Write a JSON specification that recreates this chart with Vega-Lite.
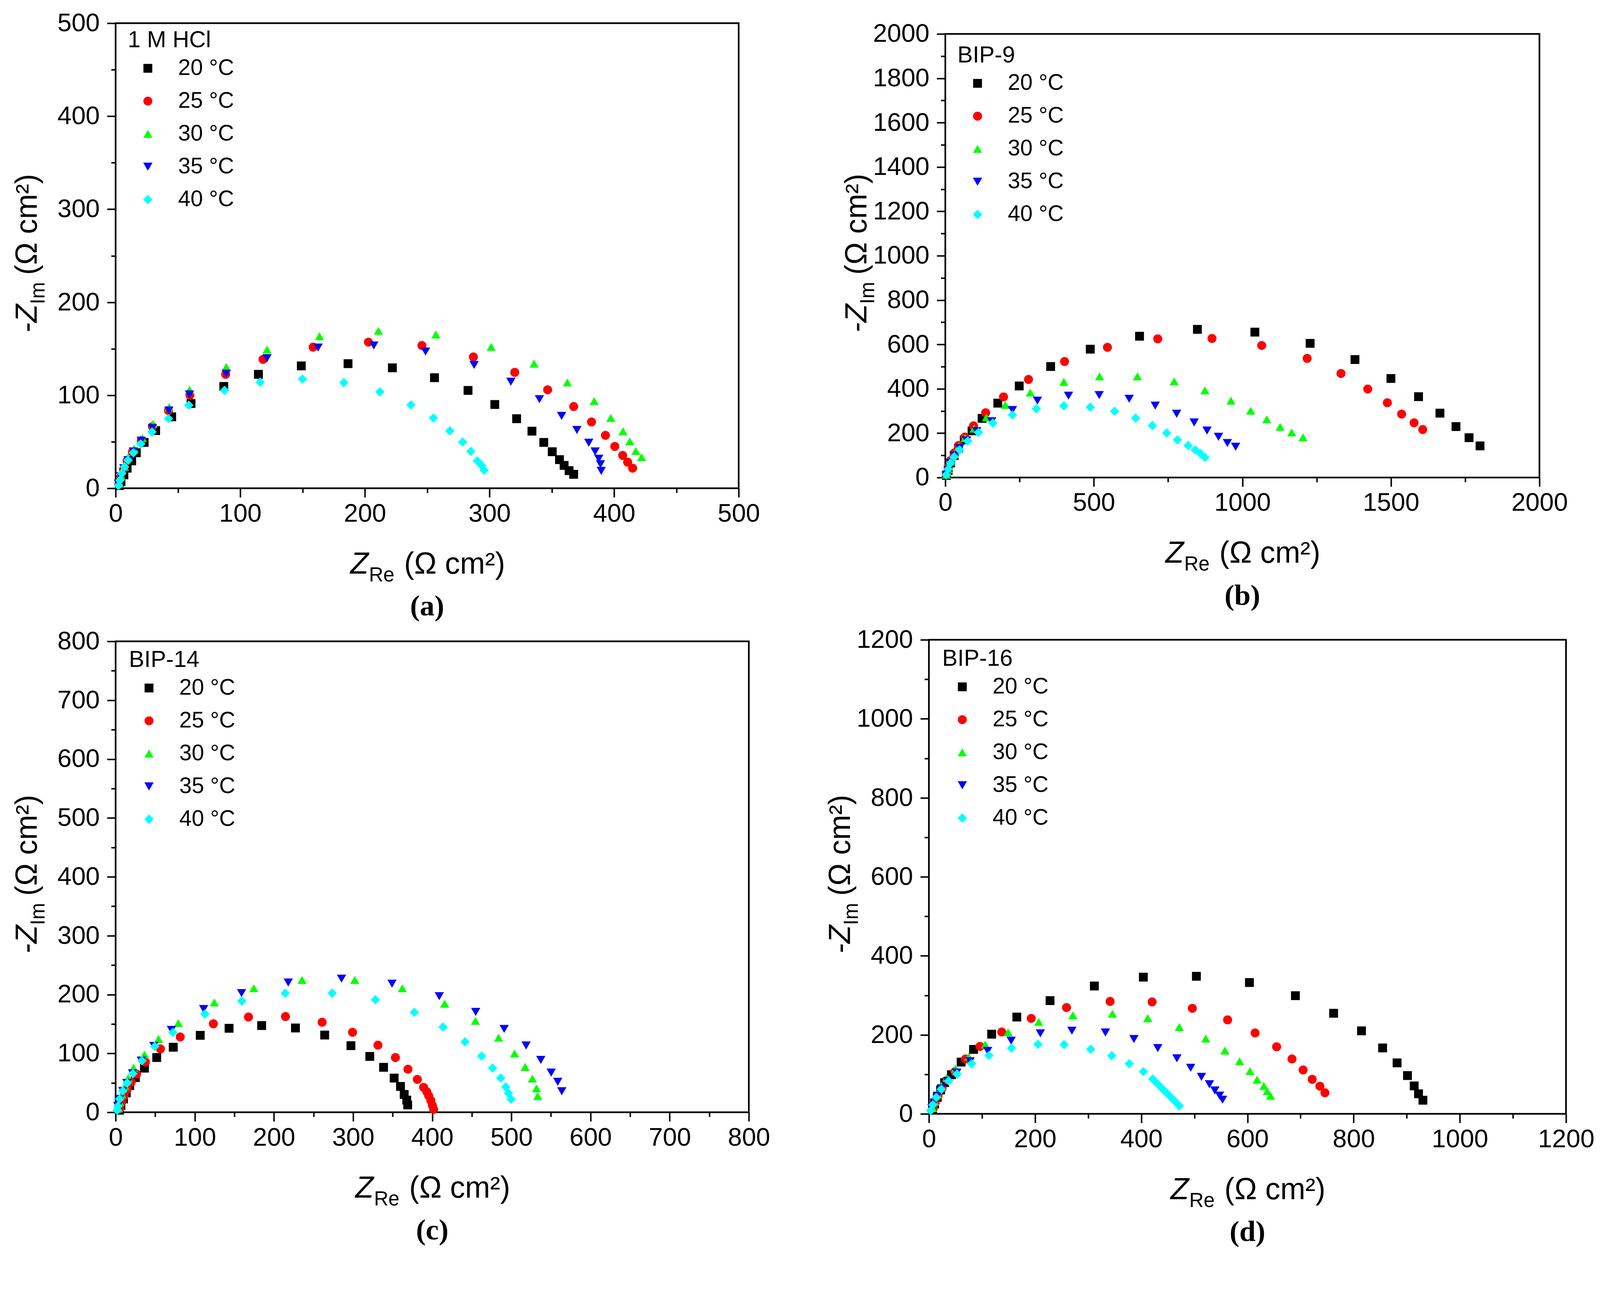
{
  "$schema": "https://vega.github.io/schema/vega-lite/v6.json",
  "padding": {"left": 28, "top": 25, "right": 5, "bottom": 5},
  "background": "white",
  "datasets": {
    "a": [
      {"s":"20 °C","x":367.6,"y":15.0},{"s":"20 °C","x":363.9,"y":19.0},{"s":"20 °C","x":359.9,"y":24.6},{"s":"20 °C","x":356.2,"y":30.8},{"s":"20 °C","x":350.4,"y":39.3},{"s":"20 °C","x":343.6,"y":49.3},{"s":"20 °C","x":334.1,"y":61.4},{"s":"20 °C","x":321.8,"y":74.8},{"s":"20 °C","x":304.3,"y":90.1},{"s":"20 °C","x":282.8,"y":105.2},{"s":"20 °C","x":255.9,"y":118.9},{"s":"20 °C","x":222.1,"y":129.5},{"s":"20 °C","x":186.5,"y":134.0},{"s":"20 °C","x":149.0,"y":131.6},{"s":"20 °C","x":114.6,"y":122.5},{"s":"20 °C","x":86.8,"y":109.5},{"s":"20 °C","x":60.5,"y":91.1},{"s":"20 °C","x":45.0,"y":76.8},{"s":"20 °C","x":32.1,"y":62.0},{"s":"20 °C","x":22.9,"y":49.3},{"s":"20 °C","x":16.6,"y":38.2},{"s":"20 °C","x":12.9,"y":29.5},{"s":"20 °C","x":9.2,"y":21.6},{"s":"20 °C","x":6.6,"y":14.4},{"s":"20 °C","x":4.3,"y":7.2},{"s":"20 °C","x":2.9,"y":2.9},
      {"s":"25 °C","x":414.9,"y":21.6},{"s":"25 °C","x":410.9,"y":28.1},{"s":"25 °C","x":406.9,"y":35.3},{"s":"25 °C","x":400.6,"y":45.0},{"s":"25 °C","x":393.1,"y":56.9},{"s":"25 °C","x":381.9,"y":71.3},{"s":"25 °C","x":367.6,"y":87.9},{"s":"25 °C","x":346.7,"y":105.9},{"s":"25 °C","x":320.3,"y":124.6},{"s":"25 °C","x":287.1,"y":141.2},{"s":"25 °C","x":245.8,"y":153.5},{"s":"25 °C","x":202.9,"y":157.1},{"s":"25 °C","x":158.5,"y":151.7},{"s":"25 °C","x":118.3,"y":138.6},{"s":"25 °C","x":88.3,"y":122.5},{"s":"25 °C","x":59.6,"y":100.1},{"s":"25 °C","x":42.4,"y":83.6},{"s":"25 °C","x":29.5,"y":66.3},{"s":"25 °C","x":20.6,"y":51.2},{"s":"25 °C","x":13.5,"y":38.9},{"s":"25 °C","x":9.2,"y":29.5},{"s":"25 °C","x":6.3,"y":20.2},{"s":"25 °C","x":4.0,"y":11.5},{"s":"25 °C","x":2.6,"y":4.3},
      {"s":"30 °C","x":422.1,"y":33.4},{"s":"30 °C","x":417.5,"y":40.1},{"s":"30 °C","x":412.6,"y":50.4},{"s":"30 °C","x":407.2,"y":61.2},{"s":"30 °C","x":397.4,"y":75.6},{"s":"30 °C","x":384.0,"y":93.7},{"s":"30 °C","x":362.5,"y":113.8},{"s":"30 °C","x":335.8,"y":134.0},{"s":"30 °C","x":301.4,"y":152.0},{"s":"30 °C","x":257.0,"y":165.3},{"s":"30 °C","x":210.9,"y":169.3},{"s":"30 °C","x":163.6,"y":163.5},{"s":"30 °C","x":121.5,"y":149.1},{"s":"30 °C","x":88.8,"y":130.4},{"s":"30 °C","x":59.3,"y":105.9},{"s":"30 °C","x":43.0,"y":87.2},{"s":"30 °C","x":30.1,"y":69.2},{"s":"30 °C","x":21.5,"y":54.0},{"s":"30 °C","x":14.9,"y":42.5},{"s":"30 °C","x":10.0,"y":33.1},{"s":"30 °C","x":7.2,"y":23.1},{"s":"30 °C","x":4.3,"y":13.0},{"s":"30 °C","x":2.9,"y":5.0},
      {"s":"35 °C","x":389.7,"y":18.7},{"s":"35 °C","x":389.1,"y":25.9},{"s":"35 °C","x":387.7,"y":31.7},{"s":"35 °C","x":384.8,"y":39.6},{"s":"35 °C","x":379.7,"y":49.0},{"s":"35 °C","x":370.2,"y":62.7},{"s":"35 °C","x":357.9,"y":77.8},{"s":"35 °C","x":340.1,"y":95.8},{"s":"35 °C","x":317.2,"y":114.6},{"s":"35 °C","x":287.7,"y":132.6},{"s":"35 °C","x":248.7,"y":147.0},{"s":"35 °C","x":207.2,"y":153.5},{"s":"35 °C","x":162.5,"y":151.3},{"s":"35 °C","x":121.5,"y":139.8},{"s":"35 °C","x":88.8,"y":123.2},{"s":"35 °C","x":59.3,"y":100.9},{"s":"35 °C","x":42.7,"y":83.6},{"s":"35 °C","x":29.5,"y":64.8},{"s":"35 °C","x":20.6,"y":51.2},{"s":"35 °C","x":14.3,"y":39.6},{"s":"35 °C","x":10.0,"y":30.3},{"s":"35 °C","x":6.6,"y":21.6},{"s":"35 °C","x":4.0,"y":13.0},{"s":"35 °C","x":2.3,"y":5.0},
      {"s":"40 °C","x":295.7,"y":19.5},{"s":"40 °C","x":293.7,"y":24.5},{"s":"40 °C","x":290.3,"y":29.5},{"s":"40 °C","x":285.1,"y":39.6},{"s":"40 °C","x":278.5,"y":49.7},{"s":"40 °C","x":268.2,"y":61.7},{"s":"40 °C","x":255.0,"y":75.6},{"s":"40 °C","x":237.0,"y":89.6},{"s":"40 °C","x":212.0,"y":103.7},{"s":"40 °C","x":183.1,"y":113.5},{"s":"40 °C","x":149.9,"y":117.4},{"s":"40 °C","x":116.0,"y":114.1},{"s":"40 °C","x":87.4,"y":105.2},{"s":"40 °C","x":58.7,"y":89.3},{"s":"40 °C","x":42.4,"y":74.9},{"s":"40 °C","x":29.2,"y":60.5},{"s":"40 °C","x":20.1,"y":47.6},{"s":"40 °C","x":14.3,"y":38.2},{"s":"40 °C","x":10.0,"y":30.3},{"s":"40 °C","x":7.2,"y":23.1},{"s":"40 °C","x":4.9,"y":15.9},{"s":"40 °C","x":3.4,"y":8.6},{"s":"40 °C","x":2.3,"y":2.9}
    ],
    "b": [
      {"s":"20 °C","x":1800,"y":142.7},{"s":"20 °C","x":1763,"y":179.8},{"s":"20 °C","x":1719,"y":229.8},{"s":"20 °C","x":1665,"y":290.4},{"s":"20 °C","x":1593,"y":364.6},{"s":"20 °C","x":1500,"y":446.6},{"s":"20 °C","x":1379,"y":532.0},{"s":"20 °C","x":1228,"y":605.1},{"s":"20 °C","x":1042,"y":655.6},{"s":"20 °C","x":848.6,"y":668.0},{"s":"20 °C","x":653.8,"y":637.1},{"s":"20 °C","x":488.0,"y":578.7},{"s":"20 °C","x":354.6,"y":500.6},{"s":"20 °C","x":248.8,"y":412.9},{"s":"20 °C","x":176.7,"y":335.4},{"s":"20 °C","x":123.8,"y":266.9},{"s":"20 °C","x":90.1,"y":210.7},{"s":"20 °C","x":63.7,"y":169.7},{"s":"20 °C","x":44.5,"y":133.1},{"s":"20 °C","x":30.0,"y":99.4},{"s":"20 °C","x":18.0,"y":65.7},{"s":"20 °C","x":9.6,"y":32.0},{"s":"20 °C","x":3.6,"y":9.6},
      {"s":"25 °C","x":1607,"y":216.3},{"s":"25 °C","x":1578,"y":246.6},{"s":"25 °C","x":1536,"y":286.0},{"s":"25 °C","x":1488,"y":337.1},{"s":"25 °C","x":1422,"y":398.9},{"s":"25 °C","x":1332,"y":469.1},{"s":"25 °C","x":1218,"y":537.1},{"s":"25 °C","x":1065,"y":595.5},{"s":"25 °C","x":897.8,"y":627.0},{"s":"25 °C","x":715.1,"y":625.3},{"s":"25 °C","x":545.7,"y":587.1},{"s":"25 °C","x":401.4,"y":523.0},{"s":"25 °C","x":280.0,"y":442.1},{"s":"25 °C","x":195.9,"y":363.5},{"s":"25 °C","x":135.8,"y":292.1},{"s":"25 °C","x":95.0,"y":233.1},{"s":"25 °C","x":66.1,"y":182.6},{"s":"25 °C","x":44.5,"y":144.4},{"s":"25 °C","x":30.0,"y":110.7},{"s":"25 °C","x":18.0,"y":77.0},{"s":"25 °C","x":9.6,"y":43.3},{"s":"25 °C","x":3.6,"y":15.2},
      {"s":"30 °C","x":1204,"y":180.9},{"s":"30 °C","x":1166,"y":203.4},{"s":"30 °C","x":1127,"y":228.7},{"s":"30 °C","x":1082,"y":262.4},{"s":"30 °C","x":1028,"y":301.7},{"s":"30 °C","x":961.5,"y":346.6},{"s":"30 °C","x":873.8,"y":392.7},{"s":"30 °C","x":770.4,"y":433.7},{"s":"30 °C","x":646.6,"y":456.2},{"s":"30 °C","x":519.2,"y":456.2},{"s":"30 °C","x":399.0,"y":430.9},{"s":"30 °C","x":286.1,"y":383.1},{"s":"30 °C","x":201.9,"y":327.0},{"s":"30 °C","x":138.2,"y":270.8},{"s":"30 °C","x":96.2,"y":220.2},{"s":"30 °C","x":66.1,"y":178.1},{"s":"30 °C","x":45.7,"y":141.6},{"s":"30 °C","x":30.0,"y":105.1},{"s":"30 °C","x":18.0,"y":71.3},{"s":"30 °C","x":9.6,"y":37.6},{"s":"30 °C","x":3.6,"y":12.4},
      {"s":"35 °C","x":977.2,"y":138.8},{"s":"35 °C","x":949.5,"y":155.6},{"s":"35 °C","x":919.5,"y":183.7},{"s":"35 °C","x":881.0,"y":211.8},{"s":"35 °C","x":837.7,"y":248.3},{"s":"35 °C","x":778.8,"y":287.6},{"s":"35 °C","x":706.7,"y":324.2},{"s":"35 °C","x":619.0,"y":355.1},{"s":"35 °C","x":518.0,"y":371.9},{"s":"35 °C","x":414.7,"y":369.1},{"s":"35 °C","x":310.1,"y":346.6},{"s":"35 °C","x":226.0,"y":304.5},{"s":"35 °C","x":156.3,"y":253.9},{"s":"35 °C","x":105.8,"y":209.0},{"s":"35 °C","x":72.1,"y":166.9},{"s":"35 °C","x":48.1,"y":133.1},{"s":"35 °C","x":30.0,"y":99.4},{"s":"35 °C","x":18.0,"y":65.7},{"s":"35 °C","x":9.6,"y":34.8},{"s":"35 °C","x":3.6,"y":12.4},
      {"s":"40 °C","x":873.8,"y":91.0},{"s":"40 °C","x":859.4,"y":107.9},{"s":"40 °C","x":841.3,"y":124.7},{"s":"40 °C","x":817.3,"y":144.4},{"s":"40 °C","x":781.3,"y":169.7},{"s":"40 °C","x":745.2,"y":200.6},{"s":"40 °C","x":697.1,"y":234.3},{"s":"40 °C","x":640.6,"y":268.0},{"s":"40 °C","x":569.7,"y":298.9},{"s":"40 °C","x":488.0,"y":317.4},{"s":"40 °C","x":399.0,"y":323.0},{"s":"40 °C","x":306.5,"y":310.1},{"s":"40 °C","x":226.0,"y":282.0},{"s":"40 °C","x":159.9,"y":245.5},{"s":"40 °C","x":111.8,"y":203.4},{"s":"40 °C","x":75.7,"y":164.0},{"s":"40 °C","x":48.1,"y":124.7},{"s":"40 °C","x":30.0,"y":93.8},{"s":"40 °C","x":18.0,"y":65.7},{"s":"40 °C","x":9.6,"y":37.6},{"s":"40 °C","x":3.6,"y":12.4}
    ],
    "c": [
      {"s":"20 °C","x":369.0,"y":12.5},{"s":"20 °C","x":367.8,"y":20.7},{"s":"20 °C","x":364.6,"y":30.3},{"s":"20 °C","x":359.9,"y":43.9},{"s":"20 °C","x":351.9,"y":58.1},{"s":"20 °C","x":338.5,"y":76.4},{"s":"20 °C","x":321.1,"y":94.9},{"s":"20 °C","x":297.3,"y":113.2},{"s":"20 °C","x":264.1,"y":131.2},{"s":"20 °C","x":227.2,"y":143.2},{"s":"20 °C","x":184.5,"y":147.3},{"s":"20 °C","x":143.3,"y":142.7},{"s":"20 °C","x":106.9,"y":130.7},{"s":"20 °C","x":72.8,"y":110.5},{"s":"20 °C","x":51.9,"y":93.0},{"s":"20 °C","x":36.4,"y":75.0},{"s":"20 °C","x":24.9,"y":58.9},{"s":"20 °C","x":17.8,"y":45.3},{"s":"20 °C","x":13.5,"y":33.0},{"s":"20 °C","x":9.9,"y":22.6},{"s":"20 °C","x":6.7,"y":11.7},{"s":"20 °C","x":4.8,"y":3.5},
      {"s":"25 °C","x":401.8,"y":4.9},{"s":"25 °C","x":400.2,"y":11.7},{"s":"25 °C","x":398.3,"y":19.9},{"s":"25 °C","x":395.5,"y":28.1},{"s":"25 °C","x":393.1,"y":34.9},{"s":"25 °C","x":389.1,"y":42.3},{"s":"25 °C","x":381.2,"y":55.9},{"s":"25 °C","x":369.3,"y":73.1},{"s":"25 °C","x":353.5,"y":93.0},{"s":"25 °C","x":331.4,"y":114.0},{"s":"25 °C","x":299.3,"y":135.8},{"s":"25 °C","x":260.9,"y":153.0},{"s":"25 °C","x":214.6,"y":162.6},{"s":"25 °C","x":167.9,"y":161.8},{"s":"25 °C","x":123.5,"y":150.3},{"s":"25 °C","x":81.6,"y":127.9},{"s":"25 °C","x":56.6,"y":107.7},{"s":"25 °C","x":37.6,"y":85.4},{"s":"25 °C","x":26.5,"y":64.9},{"s":"25 °C","x":19.8,"y":51.3},{"s":"25 °C","x":14.6,"y":39.0},{"s":"25 °C","x":10.7,"y":28.1},{"s":"25 °C","x":7.5,"y":17.2},{"s":"25 °C","x":5.1,"y":6.3},
      {"s":"30 °C","x":533.3,"y":27.6},{"s":"30 °C","x":531.7,"y":40.6},{"s":"30 °C","x":526.5,"y":57.3},{"s":"30 °C","x":517.4,"y":76.9},{"s":"30 °C","x":504.0,"y":99.8},{"s":"30 °C","x":483.8,"y":126.8},{"s":"30 °C","x":454.5,"y":155.2},{"s":"30 °C","x":415.7,"y":184.4},{"s":"30 °C","x":362.2,"y":210.6},{"s":"30 °C","x":302.1,"y":224.8},{"s":"30 °C","x":235.5,"y":224.8},{"s":"30 °C","x":174.6,"y":210.6},{"s":"30 °C","x":124.7,"y":186.6},{"s":"30 °C","x":79.2,"y":151.4},{"s":"30 °C","x":54.2,"y":124.4},{"s":"30 °C","x":36.4,"y":98.2},{"s":"30 °C","x":22.6,"y":75.8},{"s":"30 °C","x":15.8,"y":58.1},{"s":"30 °C","x":11.9,"y":44.5},{"s":"30 °C","x":7.9,"y":30.8},{"s":"30 °C","x":5.1,"y":17.2},{"s":"30 °C","x":3.6,"y":6.3},
      {"s":"35 °C","x":563.7,"y":35.7},{"s":"35 °C","x":558.6,"y":51.8},{"s":"35 °C","x":550.3,"y":67.4},{"s":"35 °C","x":537.2,"y":88.9},{"s":"35 °C","x":518.6,"y":113.5},{"s":"35 °C","x":490.9,"y":141.6},{"s":"35 °C","x":454.9,"y":170.5},{"s":"35 °C","x":408.9,"y":197.2},{"s":"35 °C","x":349.2,"y":218.5},{"s":"35 °C","x":285.4,"y":227.0},{"s":"35 °C","x":218.1,"y":220.4},{"s":"35 °C","x":159.1,"y":202.4},{"s":"35 °C","x":111.2,"y":175.4},{"s":"35 °C","x":70.5,"y":139.9},{"s":"35 °C","x":48.3,"y":112.7},{"s":"35 °C","x":32.5,"y":87.8},{"s":"35 °C","x":21.4,"y":66.3},{"s":"35 °C","x":14.3,"y":49.9},{"s":"35 °C","x":9.1,"y":36.3},{"s":"35 °C","x":5.1,"y":22.6},{"s":"35 °C","x":2.8,"y":10.4},
      {"s":"40 °C","x":499.6,"y":22.1},{"s":"40 °C","x":496.4,"y":32.2},{"s":"40 °C","x":492.9,"y":43.1},{"s":"40 °C","x":486.5,"y":58.1},{"s":"40 °C","x":476.2,"y":75.0},{"s":"40 °C","x":462.4,"y":95.5},{"s":"40 °C","x":441.4,"y":119.5},{"s":"40 °C","x":413.7,"y":144.8},{"s":"40 °C","x":377.3,"y":169.7},{"s":"40 °C","x":328.2,"y":191.2},{"s":"40 °C","x":273.6,"y":202.4},{"s":"40 °C","x":214.2,"y":202.1},{"s":"40 °C","x":159.5,"y":188.8},{"s":"40 °C","x":112.8,"y":166.9},{"s":"40 °C","x":72.4,"y":135.6},{"s":"40 °C","x":49.5,"y":111.8},{"s":"40 °C","x":33.3,"y":87.6},{"s":"40 °C","x":21.8,"y":65.7},{"s":"40 °C","x":14.6,"y":49.9},{"s":"40 °C","x":9.1,"y":36.3},{"s":"40 °C","x":5.1,"y":22.6},{"s":"40 °C","x":2.8,"y":10.4},{"s":"40 °C","x":2.0,"y":3.5}
    ],
    "d": [
      {"s":"20 °C","x":930.5,"y":34.5},{"s":"20 °C","x":922.2,"y":50.7},{"s":"20 °C","x":914.0,"y":70.7},{"s":"20 °C","x":901.4,"y":96.9},{"s":"20 °C","x":881.8,"y":129.0},{"s":"20 °C","x":854.6,"y":166.8},{"s":"20 °C","x":814.8,"y":210.1},{"s":"20 °C","x":762.3,"y":254.6},{"s":"20 °C","x":690.3,"y":299.1},{"s":"20 °C","x":603.7,"y":332.4},{"s":"20 °C","x":503.8,"y":348.2},{"s":"20 °C","x":403.9,"y":346.1},{"s":"20 °C","x":311.6,"y":323.6},{"s":"20 °C","x":228.2,"y":286.6},{"s":"20 °C","x":165.6,"y":245.0},{"s":"20 °C","x":118.2,"y":201.7},{"s":"20 °C","x":84.1,"y":163.1},{"s":"20 °C","x":60.7,"y":131.0},{"s":"20 °C","x":42.4,"y":99.0},{"s":"20 °C","x":29.7,"y":79.0},{"s":"20 °C","x":22.1,"y":60.3},{"s":"20 °C","x":15.8,"y":41.6},{"s":"20 °C","x":10.7,"y":25.0},{"s":"20 °C","x":7.0,"y":10.4},
      {"s":"25 °C","x":745.9,"y":53.2},{"s":"25 °C","x":736.4,"y":69.9},{"s":"25 °C","x":721.9,"y":87.4},{"s":"25 °C","x":704.8,"y":111.1},{"s":"25 °C","x":683.9,"y":138.9},{"s":"25 °C","x":654.9,"y":169.7},{"s":"25 °C","x":614.4,"y":204.7},{"s":"25 °C","x":562.6,"y":237.9},{"s":"25 °C","x":496.2,"y":267.1},{"s":"25 °C","x":420.4,"y":283.3},{"s":"25 °C","x":341.3,"y":284.5},{"s":"25 °C","x":259.2,"y":269.1},{"s":"25 °C","x":192.8,"y":241.7},{"s":"25 °C","x":137.2,"y":207.2},{"s":"25 °C","x":96.1,"y":170.6},{"s":"25 °C","x":68.9,"y":138.9},{"s":"25 °C","x":49.3,"y":106.9},{"s":"25 °C","x":34.8,"y":85.3},{"s":"25 °C","x":24.7,"y":64.5},{"s":"25 °C","x":17.1,"y":45.8},{"s":"25 °C","x":12.0,"y":29.1},{"s":"25 °C","x":8.2,"y":14.6},
      {"s":"30 °C","x":643.5,"y":45.8},{"s":"30 °C","x":637.2,"y":57.4},{"s":"30 °C","x":630.8,"y":70.7},{"s":"30 °C","x":618.2,"y":86.5},{"s":"30 °C","x":604.9,"y":108.2},{"s":"30 °C","x":585.3,"y":133.1},{"s":"30 °C","x":557.5,"y":160.2},{"s":"30 °C","x":521.5,"y":190.5},{"s":"30 °C","x":471.6,"y":219.6},{"s":"30 °C","x":412.1,"y":242.1},{"s":"30 °C","x":345.8,"y":253.3},{"s":"30 °C","x":271.2,"y":249.6},{"s":"30 °C","x":206.7,"y":232.9},{"s":"30 °C","x":149.2,"y":206.3},{"s":"30 °C","x":106.2,"y":175.5},{"s":"30 °C","x":75.2,"y":144.8},{"s":"30 °C","x":49.9,"y":114.4},{"s":"30 °C","x":33.5,"y":91.5},{"s":"30 °C","x":23.4,"y":70.7},{"s":"30 °C","x":15.8,"y":49.9},{"s":"30 °C","x":10.7,"y":31.2},{"s":"30 °C","x":7.0,"y":14.6},
      {"s":"35 °C","x":553.1,"y":35.8},{"s":"35 °C","x":547.4,"y":46.2},{"s":"35 °C","x":538.6,"y":59.1},{"s":"35 °C","x":528.4,"y":74.9},{"s":"35 °C","x":513.3,"y":93.6},{"s":"35 °C","x":493.0,"y":116.5},{"s":"35 °C","x":467.1,"y":140.6},{"s":"35 °C","x":431.1,"y":166.4},{"s":"35 °C","x":386.2,"y":189.3},{"s":"35 °C","x":332.5,"y":205.9},{"s":"35 °C","x":269.3,"y":210.5},{"s":"35 °C","x":209.9,"y":203.8},{"s":"35 °C","x":154.9,"y":185.1},{"s":"35 °C","x":110.6,"y":159.3},{"s":"35 °C","x":77.7,"y":133.1},{"s":"35 °C","x":52.5,"y":104.4},{"s":"35 °C","x":34.8,"y":83.2},{"s":"35 °C","x":23.4,"y":64.5},{"s":"35 °C","x":15.8,"y":45.8},{"s":"35 °C","x":10.7,"y":29.1},{"s":"35 °C","x":5.7,"y":14.6},
      {"s":"40 °C","x":471.6,"y":20.0},{"s":"40 °C","x":464.6,"y":29.9},{"s":"40 °C","x":457.6,"y":39.5},{"s":"40 °C","x":450.7,"y":49.1},{"s":"40 °C","x":443.7,"y":58.2},{"s":"40 °C","x":436.8,"y":67.4},{"s":"40 °C","x":429.8,"y":77.0},{"s":"40 °C","x":421.6,"y":88.2},{"s":"40 °C","x":403.9,"y":106.9},{"s":"40 °C","x":377.4,"y":126.9},{"s":"40 °C","x":344.5,"y":147.3},{"s":"40 °C","x":304.7,"y":163.5},{"s":"40 °C","x":254.7,"y":175.5},{"s":"40 °C","x":205.4,"y":176.0},{"s":"40 °C","x":155.5,"y":166.4},{"s":"40 °C","x":113.1,"y":147.7},{"s":"40 °C","x":80.3,"y":126.9},{"s":"40 °C","x":53.1,"y":100.7},{"s":"40 °C","x":37.3,"y":83.2},{"s":"40 °C","x":23.4,"y":62.4},{"s":"40 °C","x":13.9,"y":41.6},{"s":"40 °C","x":7.6,"y":22.9},{"s":"40 °C","x":3.2,"y":8.3}
    ]
  },
  "vconcat": [
    {
      "hconcat": [
        {
          "width": 1595, "height": 1191,
          "data": {"name": "a"},
          "title": {"text": "(a)"},
          "layer": [
            {
              "mark": {"type": "point", "filled": true, "opacity": 1, "strokeWidth": 0},
              "encoding": {
                "x": {"field": "x", "type": "quantitative", "scale": {"domain": [0, 500], "nice": false},
                  "axis": {"orient": "bottom", "values": [0, 100, 200, 300, 400, 500], "format": "d", "tickSize": 23, "labelPadding": 11, "title": "Z", "titleFontStyle": "italic", "titleFontSize": 77, "titleX": 600, "titleY": 218}},
                "y": {"field": "y", "type": "quantitative", "scale": {"domain": [0, 500], "nice": false},
                  "axis": {"orient": "left", "values": [0, 100, 200, 300, 400, 500], "format": "d", "tickSize": 22, "labelPadding": 19, "title": "-Z", "titleFontStyle": "italic", "titleFontSize": 77, "titleX": -203, "titleY": 792}},
                "color": {"field": "s", "type": "nominal", "scale": {"domain": ["20 °C", "25 °C", "30 °C", "35 °C", "40 °C"], "range": ["#000000", "#ff0000", "#00ff00", "#0000ff", "#00ffff"]},
                  "legend": {"title": "1 M HCl", "orient": "none", "legendX": 31, "legendY": 15}},
                "shape": {"field": "s", "type": "nominal", "scale": {"domain": ["20 °C", "25 °C", "30 °C", "35 °C", "40 °C"], "range": ["square", "circle", "triangle-up", "triangle-down", "diamond"]},
                  "legend": {"title": "1 M HCl", "orient": "none", "legendX": 31, "legendY": 15}},
                "size": {"field": "s", "type": "nominal", "scale": {"domain": ["20 °C", "25 °C", "30 °C", "35 °C", "40 °C"], "range": [512, 585, 915, 915, 1100]},
                  "legend": {"title": "1 M HCl", "orient": "none", "legendX": 31, "legendY": 15}}
              }
            },
            {
              "mark": {"type": "point", "opacity": 0},
              "encoding": {
                "x": {"field": "x", "type": "quantitative", "scale": {"domain": [0, 500], "nice": false},
                  "axis": {"orient": "bottom", "values": [50, 150, 250, 350, 450], "tickSize": 11.5, "labels": false, "title": "Re", "titleFontSize": 51, "titleX": 648, "titleY": 238}},
                "y": {"field": "y", "type": "quantitative", "scale": {"domain": [0, 500], "nice": false},
                  "axis": {"orient": "left", "values": [50, 150, 250, 350, 450], "tickSize": 11.5, "labels": false, "title": "Im", "titleFontSize": 51, "titleX": -183, "titleY": 719}}
              }
            },
            {
              "mark": {"type": "point", "opacity": 0},
              "encoding": {
                "x": {"field": "x", "type": "quantitative", "scale": {"domain": [0, 500], "nice": false},
                  "axis": {"orient": "bottom", "ticks": false, "labels": false, "title": "(Ω cm²)", "titleFontSize": 77, "titleX": 738, "titleY": 218}},
                "y": {"field": "y", "type": "quantitative", "scale": {"domain": [0, 500], "nice": false},
                  "axis": {"orient": "left", "ticks": false, "labels": false, "title": "(Ω cm²)", "titleFontSize": 77, "titleX": -203, "titleY": 644}}
              }
            }
          ],
          "resolve": {"axis": {"x": "independent", "y": "independent"}}
        },
        {
          "width": 1521, "height": 1136,
          "data": {"name": "b"},
          "title": {"text": "(b)"},
          "layer": [
            {
              "mark": {"type": "point", "filled": true, "opacity": 1, "strokeWidth": 0},
              "encoding": {
                "x": {"field": "x", "type": "quantitative", "scale": {"domain": [0, 2000], "nice": false},
                  "axis": {"orient": "bottom", "values": [0, 500, 1000, 1500, 2000], "format": "d", "tickSize": 23, "labelPadding": 11, "title": "Z", "titleFontStyle": "italic", "titleFontSize": 77, "titleX": 563, "titleY": 218}},
                "y": {"field": "y", "type": "quantitative", "scale": {"domain": [0, 2000], "nice": false},
                  "axis": {"orient": "left", "values": [0, 200, 400, 600, 800, 1000, 1200, 1400, 1600, 1800, 2000], "format": "d", "tickSize": 22, "labelPadding": 19, "title": "-Z", "titleFontStyle": "italic", "titleFontSize": 77, "titleX": -203, "titleY": 764}},
                "color": {"field": "s", "type": "nominal", "scale": {"domain": ["20 °C", "25 °C", "30 °C", "35 °C", "40 °C"], "range": ["#000000", "#ff0000", "#00ff00", "#0000ff", "#00ffff"]},
                  "legend": {"title": "BIP-9", "orient": "none", "legendX": 31, "legendY": 26}},
                "shape": {"field": "s", "type": "nominal", "scale": {"domain": ["20 °C", "25 °C", "30 °C", "35 °C", "40 °C"], "range": ["square", "circle", "triangle-up", "triangle-down", "diamond"]},
                  "legend": {"title": "BIP-9", "orient": "none", "legendX": 31, "legendY": 26}},
                "size": {"field": "s", "type": "nominal", "scale": {"domain": ["20 °C", "25 °C", "30 °C", "35 °C", "40 °C"], "range": [512, 585, 915, 915, 1100]},
                  "legend": {"title": "BIP-9", "orient": "none", "legendX": 31, "legendY": 26}}
              }
            },
            {
              "mark": {"type": "point", "opacity": 0},
              "encoding": {
                "x": {"field": "x", "type": "quantitative", "scale": {"domain": [0, 2000], "nice": false},
                  "axis": {"orient": "bottom", "values": [250, 750, 1250, 1750], "tickSize": 11.5, "labels": false, "title": "Re", "titleFontSize": 51, "titleX": 611, "titleY": 238}},
                "y": {"field": "y", "type": "quantitative", "scale": {"domain": [0, 2000], "nice": false},
                  "axis": {"orient": "left", "values": [100, 300, 500, 700, 900, 1100, 1300, 1500, 1700, 1900], "tickSize": 11.5, "labels": false, "title": "Im", "titleFontSize": 51, "titleX": -183, "titleY": 691}}
              }
            },
            {
              "mark": {"type": "point", "opacity": 0},
              "encoding": {
                "x": {"field": "x", "type": "quantitative", "scale": {"domain": [0, 2000], "nice": false},
                  "axis": {"orient": "bottom", "ticks": false, "labels": false, "title": "(Ω cm²)", "titleFontSize": 77, "titleX": 701, "titleY": 218}},
                "y": {"field": "y", "type": "quantitative", "scale": {"domain": [0, 2000], "nice": false},
                  "axis": {"orient": "left", "ticks": false, "labels": false, "title": "(Ω cm²)", "titleFontSize": 77, "titleX": -203, "titleY": 616}}
              }
            }
          ],
          "resolve": {"axis": {"x": "independent", "y": "independent"}}
        }
      ],
      "spacing": 204,
      "center": true,
      "resolve": {"scale": {"color": "independent", "shape": "independent", "size": "independent"}}
    },
    {
      "hconcat": [
        {
          "width": 1621, "height": 1206,
          "data": {"name": "c"},
          "title": {"text": "(c)"},
          "layer": [
            {
              "mark": {"type": "point", "filled": true, "opacity": 1, "strokeWidth": 0},
              "encoding": {
                "x": {"field": "x", "type": "quantitative", "scale": {"domain": [0, 800], "nice": false},
                  "axis": {"orient": "bottom", "values": [0, 100, 200, 300, 400, 500, 600, 700, 800], "format": "d", "tickSize": 23, "labelPadding": 11, "title": "Z", "titleFontStyle": "italic", "titleFontSize": 77, "titleX": 613, "titleY": 218}},
                "y": {"field": "y", "type": "quantitative", "scale": {"domain": [0, 800], "nice": false},
                  "axis": {"orient": "left", "values": [0, 100, 200, 300, 400, 500, 600, 700, 800], "format": "d", "tickSize": 22, "labelPadding": 19, "title": "-Z", "titleFontStyle": "italic", "titleFontSize": 77, "titleX": -203, "titleY": 799}},
                "color": {"field": "s", "type": "nominal", "scale": {"domain": ["20 °C", "25 °C", "30 °C", "35 °C", "40 °C"], "range": ["#000000", "#ff0000", "#00ff00", "#0000ff", "#00ffff"]},
                  "legend": {"title": "BIP-14", "orient": "none", "legendX": 34, "legendY": 19}},
                "shape": {"field": "s", "type": "nominal", "scale": {"domain": ["20 °C", "25 °C", "30 °C", "35 °C", "40 °C"], "range": ["square", "circle", "triangle-up", "triangle-down", "diamond"]},
                  "legend": {"title": "BIP-14", "orient": "none", "legendX": 34, "legendY": 19}},
                "size": {"field": "s", "type": "nominal", "scale": {"domain": ["20 °C", "25 °C", "30 °C", "35 °C", "40 °C"], "range": [512, 585, 915, 915, 1100]},
                  "legend": {"title": "BIP-14", "orient": "none", "legendX": 34, "legendY": 19}}
              }
            },
            {
              "mark": {"type": "point", "opacity": 0},
              "encoding": {
                "x": {"field": "x", "type": "quantitative", "scale": {"domain": [0, 800], "nice": false},
                  "axis": {"orient": "bottom", "values": [50, 150, 250, 350, 450, 550, 650, 750], "tickSize": 11.5, "labels": false, "title": "Re", "titleFontSize": 51, "titleX": 661, "titleY": 238}},
                "y": {"field": "y", "type": "quantitative", "scale": {"domain": [0, 800], "nice": false},
                  "axis": {"orient": "left", "values": [50, 150, 250, 350, 450, 550, 650, 750], "tickSize": 11.5, "labels": false, "title": "Im", "titleFontSize": 51, "titleX": -183, "titleY": 726}}
              }
            },
            {
              "mark": {"type": "point", "opacity": 0},
              "encoding": {
                "x": {"field": "x", "type": "quantitative", "scale": {"domain": [0, 800], "nice": false},
                  "axis": {"orient": "bottom", "ticks": false, "labels": false, "title": "(Ω cm²)", "titleFontSize": 77, "titleX": 751, "titleY": 218}},
                "y": {"field": "y", "type": "quantitative", "scale": {"domain": [0, 800], "nice": false},
                  "axis": {"orient": "left", "ticks": false, "labels": false, "title": "(Ω cm²)", "titleFontSize": 77, "titleX": -203, "titleY": 651}}
              }
            }
          ],
          "resolve": {"axis": {"x": "independent", "y": "independent"}}
        },
        {
          "width": 1631, "height": 1214,
          "data": {"name": "d"},
          "title": {"text": "(d)"},
          "layer": [
            {
              "mark": {"type": "point", "filled": true, "opacity": 1, "strokeWidth": 0},
              "encoding": {
                "x": {"field": "x", "type": "quantitative", "scale": {"domain": [0, 1200], "nice": false},
                  "axis": {"orient": "bottom", "values": [0, 200, 400, 600, 800, 1000, 1200], "format": "d", "tickSize": 23, "labelPadding": 11, "title": "Z", "titleFontStyle": "italic", "titleFontSize": 77, "titleX": 618, "titleY": 218}},
                "y": {"field": "y", "type": "quantitative", "scale": {"domain": [0, 1200], "nice": false},
                  "axis": {"orient": "left", "values": [0, 200, 400, 600, 800, 1000, 1200], "format": "d", "tickSize": 22, "labelPadding": 19, "title": "-Z", "titleFontStyle": "italic", "titleFontSize": 77, "titleX": -203, "titleY": 803}},
                "color": {"field": "s", "type": "nominal", "scale": {"domain": ["20 °C", "25 °C", "30 °C", "35 °C", "40 °C"], "range": ["#000000", "#ff0000", "#00ff00", "#0000ff", "#00ffff"]},
                  "legend": {"title": "BIP-16", "orient": "none", "legendX": 34, "legendY": 20}},
                "shape": {"field": "s", "type": "nominal", "scale": {"domain": ["20 °C", "25 °C", "30 °C", "35 °C", "40 °C"], "range": ["square", "circle", "triangle-up", "triangle-down", "diamond"]},
                  "legend": {"title": "BIP-16", "orient": "none", "legendX": 34, "legendY": 20}},
                "size": {"field": "s", "type": "nominal", "scale": {"domain": ["20 °C", "25 °C", "30 °C", "35 °C", "40 °C"], "range": [512, 585, 915, 915, 1100]},
                  "legend": {"title": "BIP-16", "orient": "none", "legendX": 34, "legendY": 20}}
              }
            },
            {
              "mark": {"type": "point", "opacity": 0},
              "encoding": {
                "x": {"field": "x", "type": "quantitative", "scale": {"domain": [0, 1200], "nice": false},
                  "axis": {"orient": "bottom", "values": [100, 300, 500, 700, 900, 1100], "tickSize": 11.5, "labels": false, "title": "Re", "titleFontSize": 51, "titleX": 666, "titleY": 238}},
                "y": {"field": "y", "type": "quantitative", "scale": {"domain": [0, 1200], "nice": false},
                  "axis": {"orient": "left", "values": [100, 300, 500, 700, 900, 1100], "tickSize": 11.5, "labels": false, "title": "Im", "titleFontSize": 51, "titleX": -183, "titleY": 730}}
              }
            },
            {
              "mark": {"type": "point", "opacity": 0},
              "encoding": {
                "x": {"field": "x", "type": "quantitative", "scale": {"domain": [0, 1200], "nice": false},
                  "axis": {"orient": "bottom", "ticks": false, "labels": false, "title": "(Ω cm²)", "titleFontSize": 77, "titleX": 756, "titleY": 218}},
                "y": {"field": "y", "type": "quantitative", "scale": {"domain": [0, 1200], "nice": false},
                  "axis": {"orient": "left", "ticks": false, "labels": false, "title": "(Ω cm²)", "titleFontSize": 77, "titleX": -203, "titleY": 655}}
              }
            }
          ],
          "resolve": {"axis": {"x": "independent", "y": "independent"}}
        }
      ],
      "spacing": 136,
      "center": true,
      "resolve": {"scale": {"color": "independent", "shape": "independent", "size": "independent"}}
    }
  ],
  "spacing": 10,
  "resolve": {"scale": {"color": "independent", "shape": "independent", "size": "independent"}},
  "config": {
    "view": {"stroke": "black", "strokeWidth": 4.3},
    "axis": {
      "domain": false, "grid": false,
      "labelFont": "Liberation Sans", "labelFontSize": 65, "labelColor": "black",
      "labelFlush": false, "labelOverlap": false,
      "tickColor": "black", "tickWidth": 3.8,
      "titleFont": "Liberation Sans", "titleColor": "black", "titleFontWeight": "normal",
      "titleAlign": "left", "titleBaseline": "alphabetic"
    },
    "axisX": {"titleAngle": 0},
    "axisY": {"titleAngle": -90},
    "legend": {
      "padding": 0, "titlePadding": 13, "titleLimit": 2000, "labelLimit": 2000,
      "titleFont": "Liberation Sans", "titleFontSize": 59, "titleFontWeight": "normal", "titleColor": "black",
      "labelFont": "Liberation Sans", "labelFontSize": 57, "labelColor": "black",
      "labelOffset": 49, "symbolOffset": 23, "rowPadding": 26,
      "symbolStrokeWidth": 0, "symbolOpacity": 1
    },
    "title": {
      "orient": "bottom", "frame": "group", "anchor": "middle",
      "font": "Liberation Serif", "fontSize": 75, "fontWeight": "bold", "color": "black", "offset": 19
    }
  }
}
